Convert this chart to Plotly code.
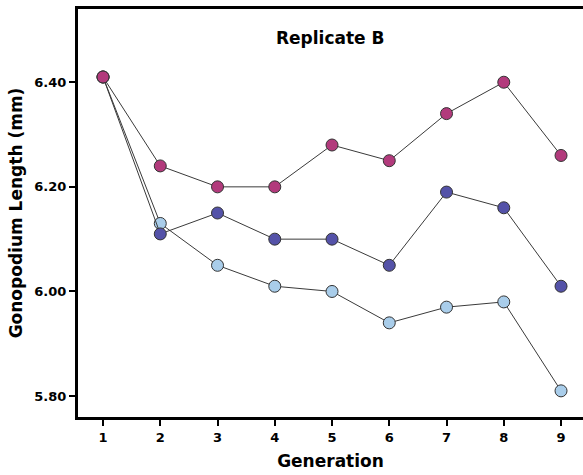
import plotly.graph_objects as go

generations = [1, 2, 3, 4, 5, 6, 7, 8, 9]
series_magenta = [6.41, 6.24, 6.20, 6.20, 6.28, 6.25, 6.34, 6.40, 6.26]
series_blue = [6.41, 6.11, 6.15, 6.10, 6.10, 6.05, 6.19, 6.16, 6.01]
series_light = [6.41, 6.13, 6.05, 6.01, 6.00, 5.94, 5.97, 5.98, 5.81]
y_ticks = [5.80, 6.00, 6.20, 6.40]
y_tick_labels = ["5.80", "6.00", "6.20", "6.40"]

fig = go.Figure()
for ys, col in [(series_light, "#a9cdea"), (series_blue, "#5452a8"), (series_magenta, "#b23a7c")]:
    fig.add_trace(go.Scatter(
        x=generations, y=ys, mode="lines+markers",
        line=dict(color="#3a3a3a", width=1),
        marker=dict(size=12, color=col, line=dict(color="#333333", width=1)),
        showlegend=False,
    ))

fig.update_layout(
    width=583, height=475,
    margin=dict(l=78, r=0, t=9, b=58),
    paper_bgcolor="white", plot_bgcolor="white",
    font=dict(family="DejaVu Sans", color="black"),
    annotations=[dict(text="<b>Replicate B</b>", x=0.5, y=0.929, xref="paper", yref="paper",
                      showarrow=False, font=dict(size=17, family="DejaVu Sans"), xanchor="center", yanchor="middle")],
)
fig.update_xaxes(
    range=[0.563, 9.384], tickvals=generations, ticktext=[f"<b>{g}</b>" for g in generations],
    showline=True, linecolor="black", linewidth=3, mirror=True,
    ticks="outside", ticklen=6, tickwidth=1.5, tickcolor="black",
    showgrid=False, zeroline=False, tickfont=dict(size=13),
    title=dict(text="<b>Generation</b>", font=dict(size=17), standoff=12),
)
fig.update_yaxes(
    range=[5.76, 6.54], tickvals=y_ticks, ticktext=[f"<b>{t}</b>" for t in y_tick_labels],
    showline=True, linecolor="black", linewidth=3, mirror=False,
    ticks="outside", ticklen=6, tickwidth=1.5, tickcolor="black",
    showgrid=False, zeroline=False, tickfont=dict(size=13),
    title=dict(text="<b>Gonopodium Length (mm)</b>", font=dict(size=17), standoff=8),
)
fig.write_html("out.html")
